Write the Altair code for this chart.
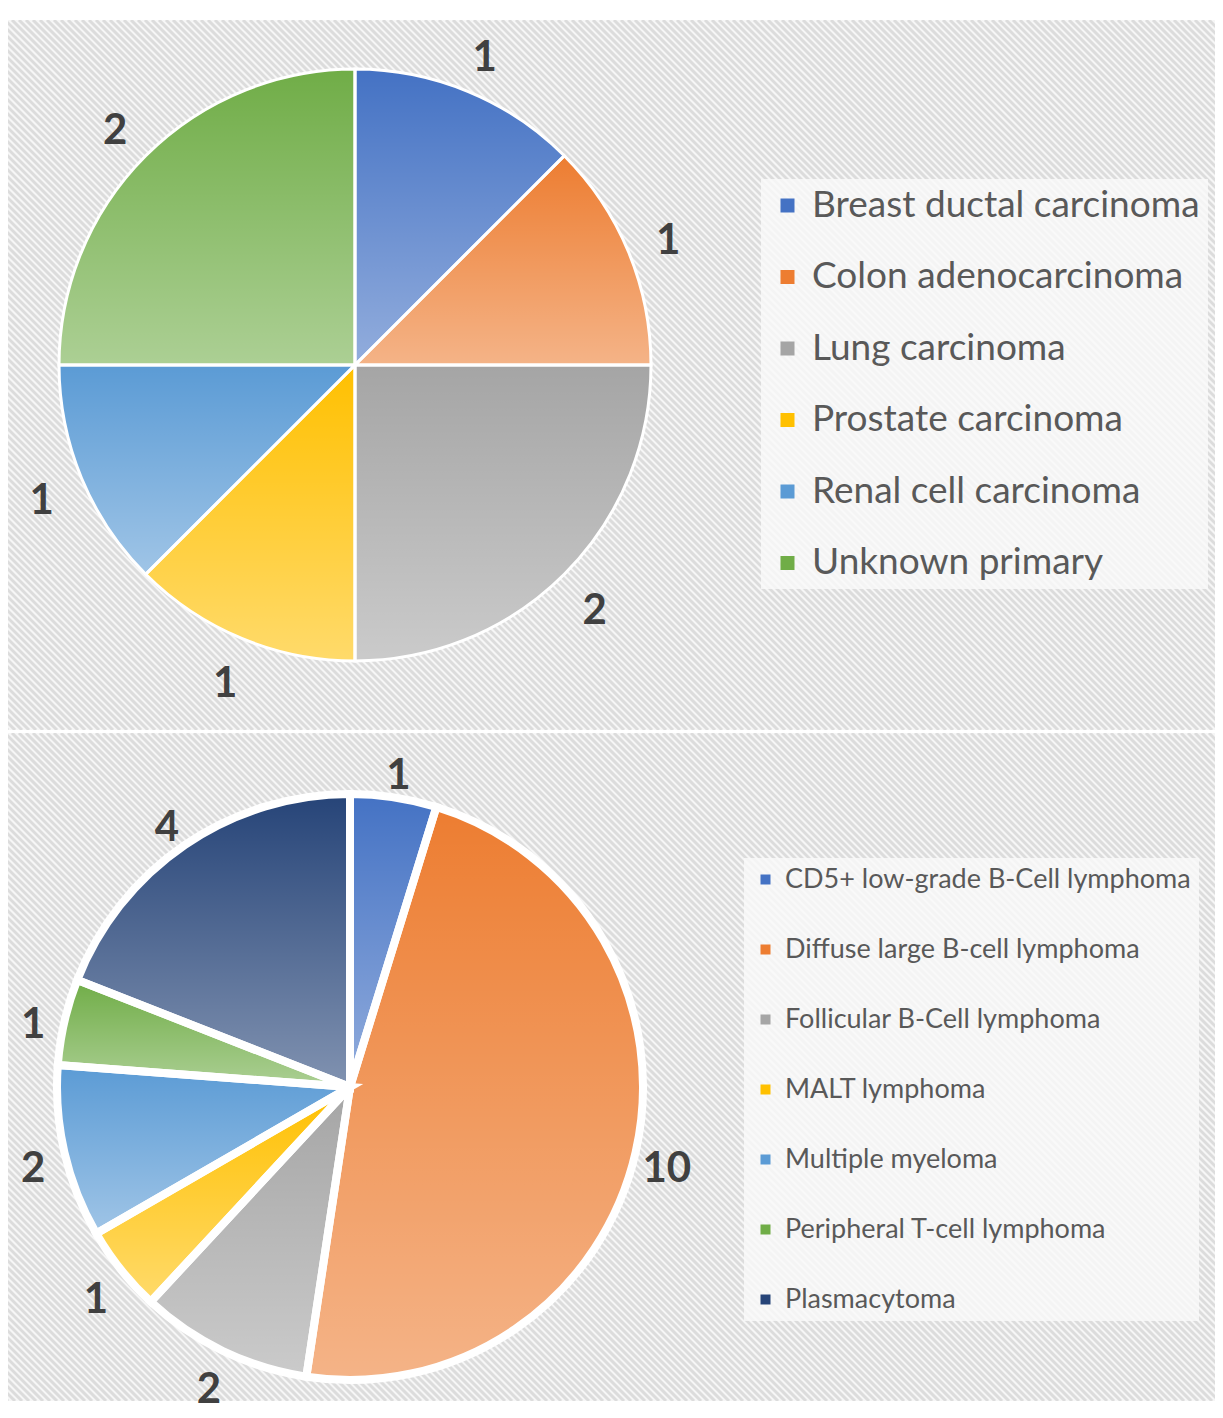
import altair as alt
import pandas as pd

# ---- data ----
cats1 = ["Breast ductal carcinoma", "Colon adenocarcinoma", "Lung carcinoma",
         "Prostate carcinoma", "Renal cell carcinoma", "Unknown primary"]
vals1 = [1, 1, 2, 1, 1, 2]
cols1 = ["#4472C4", "#ED7D31", "#A5A5A5", "#FFC000", "#5B9BD5", "#70AD47"]

cats2 = ["CD5+ low-grade B-Cell lymphoma", "Diffuse large B-cell lymphoma",
         "Follicular B-Cell lymphoma", "MALT lymphoma", "Multiple myeloma",
         "Peripheral T-cell lymphoma", "Plasmacytoma"]
vals2 = [1, 10, 2, 1, 2, 1, 4]
cols2 = ["#4472C4", "#ED7D31", "#A5A5A5", "#FFC000", "#5B9BD5", "#70AD47", "#264478"]

GRAD = alt.LinearGradient(
    gradient="linear", x1=0, x2=0, y1=0, y2=1,
    stops=[alt.GradientStop(color="rgba(255,255,255,0)", offset=0),
           alt.GradientStop(color="rgba(255,255,255,0.42)", offset=1)],
)


def hatch(w, h, step=7):
    # decorative diagonal background stripes
    return alt.Chart(alt.sequence(-h, w + step, step, as_="k")).transform_calculate(
        xa="datum.k", xb=f"datum.k + {h}", ya="0", yb=f"{h}"
    ).mark_rule(color="#dcdcdc", strokeWidth=3, clip=True).encode(
        x=alt.X("xa:Q", scale=None, axis=None),
        x2="xb:Q",
        y=alt.Y("ya:Q", scale=None, axis=None),
        y2="yb:Q",
    )


def pie(cats, vals, cols, w, h, cx, cy, r_out, r_lab, lab_dy, stroke_w, lab_size,
        leg_font, leg_sym, leg_rowpad, leg_x, leg_y, leg_off, leg_pad):
    df = pd.DataFrame({"cat": cats, "val": vals, "idx": list(range(len(cats)))})
    base = alt.Chart(df).encode(
        theta=alt.Theta("val:Q", stack=True),
        order=alt.Order("idx:Q"),
    )
    color = alt.Color(
        "cat:N",
        scale=alt.Scale(domain=cats, range=cols),
        sort=cats,
        legend=alt.Legend(
            orient="none", legendX=leg_x, legendY=leg_y, title=None,
            symbolType="square", symbolSize=leg_sym, symbolStrokeWidth=0,
            labelFont="Lato", labelFontSize=leg_font, labelColor="#595959",
            labelLimit=900, rowPadding=leg_rowpad, labelOffset=leg_off,
            fillColor="rgba(250,250,250,0.8)", padding=leg_pad,
        ),
    )
    arcs = base.mark_arc(outerRadius=r_out).encode(
        color=color, x=alt.value(cx), y=alt.value(cy))
    shade = base.mark_arc(outerRadius=r_out, fill=GRAD, stroke="white",
                          strokeWidth=stroke_w).encode(x=alt.value(cx), y=alt.value(cy))
    labels = base.mark_text(radius=r_lab, dy=lab_dy, font="Lato", fontWeight="bold",
                            fontSize=lab_size, color="#404040").encode(
        text="val:Q", x=alt.value(cx), y=alt.value(cy))
    return alt.layer(hatch(w, h), arcs, shade, labels).properties(width=w, height=h)


top = pie(cats1, vals1, cols1, 1207, 710, 347, 345, 296, 339, 6, 3, 42,
          37, 196, 33.5, 753, 159, 6, 8)
bottom = pie(cats2, vals2, cols2, 1207, 668, 342, 354, 293, 325, 10, 8, 42,
             27, 100, 42, 736, 125, 6, 8)

chart = alt.vconcat(top, bottom, spacing=3).resolve_scale(
    color="independent"
).resolve_legend(color="independent").properties(
    padding={"left": 0, "top": 12, "right": 0, "bottom": 0},
    background="white",
).configure_view(fill="#f6f6f6", stroke=None)

chart.save("out.html", embed_options={"renderer": "svg", "actions": False})
